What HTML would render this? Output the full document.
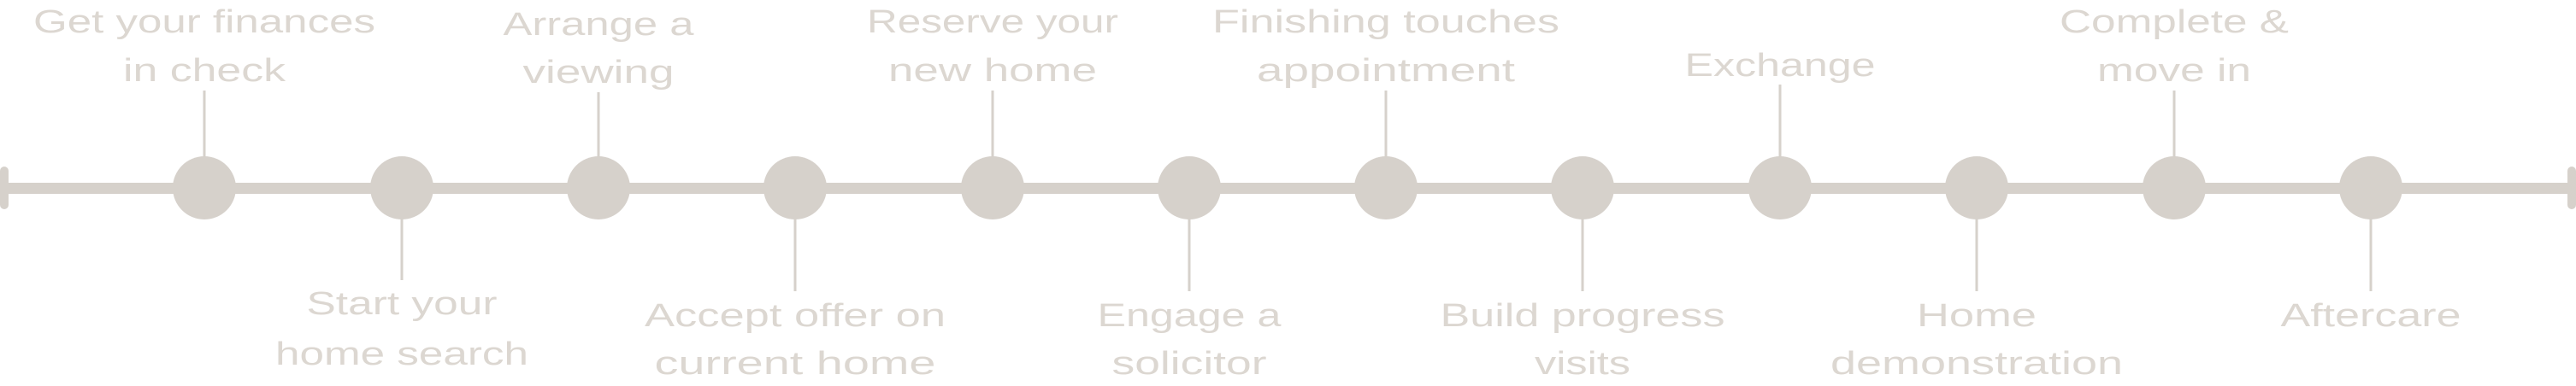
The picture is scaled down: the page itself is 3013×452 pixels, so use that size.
<!DOCTYPE html>
<html><head><meta charset="utf-8"><style>
html,body{margin:0;padding:0;background:#fff;}
svg{display:block;}
text{font-family:"Liberation Sans",sans-serif;font-size:38px;fill:#dcd7d1;text-anchor:middle;}
</style></head><body>
<svg width="3013" height="452" viewBox="0 0 3013 452" xmlns="http://www.w3.org/2000/svg">
<g fill="#d6d1cb" stroke="none">
<rect x="0" y="214" width="3013" height="13"/>
<rect x="0" y="195" width="10" height="50" rx="5"/>
<rect x="3003" y="195" width="10" height="50" rx="5"/>
<circle cx="239" cy="220" r="37"/>
<circle cx="470" cy="220" r="37"/>
<circle cx="700" cy="220" r="37"/>
<circle cx="930" cy="220" r="37"/>
<circle cx="1161" cy="220" r="37"/>
<circle cx="1391" cy="220" r="37"/>
<circle cx="1621" cy="220" r="37"/>
<circle cx="1851" cy="220" r="37"/>
<circle cx="2082" cy="220" r="37"/>
<circle cx="2312" cy="220" r="37"/>
<circle cx="2543" cy="220" r="37"/>
<circle cx="2773" cy="220" r="37"/>
</g>
<g stroke="#d6d1cb" stroke-width="3">
<line x1="239" y1="106" x2="239" y2="190"/>
<line x1="470" y1="250" x2="470" y2="328"/>
<line x1="700" y1="108" x2="700" y2="190"/>
<line x1="930" y1="250" x2="930" y2="341"/>
<line x1="1161" y1="106" x2="1161" y2="190"/>
<line x1="1391" y1="250" x2="1391" y2="341"/>
<line x1="1621" y1="106" x2="1621" y2="190"/>
<line x1="1851" y1="250" x2="1851" y2="341"/>
<line x1="2082" y1="99" x2="2082" y2="190"/>
<line x1="2312" y1="250" x2="2312" y2="341"/>
<line x1="2543" y1="106" x2="2543" y2="190"/>
<line x1="2773" y1="250" x2="2773" y2="341"/>
</g>
<text x="239" y="38" textLength="400" lengthAdjust="spacingAndGlyphs">Get your finances</text>
<text x="239" y="95" textLength="190" lengthAdjust="spacingAndGlyphs">in check</text>
<text x="470" y="368" textLength="223" lengthAdjust="spacingAndGlyphs">Start your</text>
<text x="470" y="427" textLength="296" lengthAdjust="spacingAndGlyphs">home search</text>
<text x="700" y="41" textLength="223" lengthAdjust="spacingAndGlyphs">Arrange a</text>
<text x="700" y="97" textLength="177" lengthAdjust="spacingAndGlyphs">viewing</text>
<text x="930" y="382" textLength="352" lengthAdjust="spacingAndGlyphs">Accept offer on</text>
<text x="930" y="438" textLength="329" lengthAdjust="spacingAndGlyphs">current home</text>
<text x="1161" y="38" textLength="294" lengthAdjust="spacingAndGlyphs">Reserve your</text>
<text x="1161" y="95" textLength="244" lengthAdjust="spacingAndGlyphs">new home</text>
<text x="1391" y="382" textLength="215" lengthAdjust="spacingAndGlyphs">Engage a</text>
<text x="1391" y="438" textLength="181" lengthAdjust="spacingAndGlyphs">solicitor</text>
<text x="1621" y="38" textLength="406" lengthAdjust="spacingAndGlyphs">Finishing touches</text>
<text x="1621" y="95" textLength="302" lengthAdjust="spacingAndGlyphs">appointment</text>
<text x="1851" y="382" textLength="333" lengthAdjust="spacingAndGlyphs">Build progress</text>
<text x="1851" y="438" textLength="112" lengthAdjust="spacingAndGlyphs">visits</text>
<text x="2082" y="89" textLength="223" lengthAdjust="spacingAndGlyphs">Exchange</text>
<text x="2312" y="382" textLength="140" lengthAdjust="spacingAndGlyphs">Home</text>
<text x="2312" y="438" textLength="342" lengthAdjust="spacingAndGlyphs">demonstration</text>
<text x="2543" y="38" textLength="268" lengthAdjust="spacingAndGlyphs">Complete &amp;</text>
<text x="2543" y="95" textLength="180" lengthAdjust="spacingAndGlyphs">move in</text>
<text x="2773" y="382" textLength="211" lengthAdjust="spacingAndGlyphs">Aftercare</text>
</svg>
</body></html>
